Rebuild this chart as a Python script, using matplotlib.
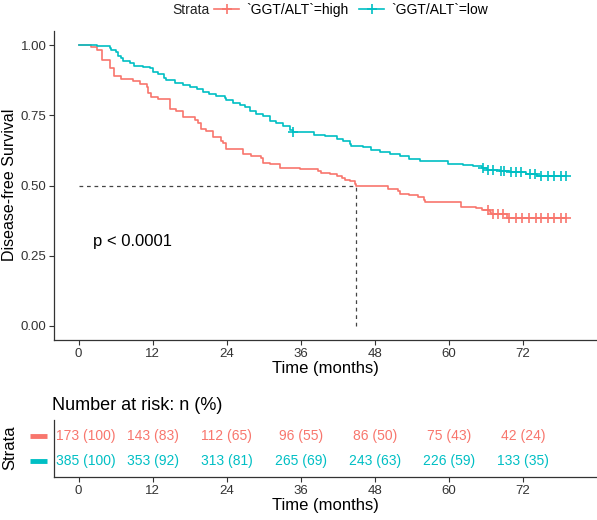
import numpy as np
import matplotlib
matplotlib.use("Agg")
import matplotlib.pyplot as plt
from matplotlib.lines import Line2D

plt.rcParams['font.family'] = ['Liberation Sans', 'DejaVu Sans']

red = '#F8766D'
blue = '#00BFC4'

# GGT/ALT = high : step times and survival after each step
high_t = [0, 2.0, 2.9, 3.8, 5.0, 5.8, 6.9, 8.8, 9.9, 11.0, 11.2, 11.8, 12.9, 14.8, 15.8,
          16.9, 18.8, 19.3, 19.9, 20.7, 21.8, 23.0, 23.4, 23.9, 26.6, 28.0, 29.6, 29.9,
          31.0, 32.6, 35.8, 38.8, 39.3, 40.7, 41.8, 42.6, 43.1, 43.9, 44.7, 45.0, 50.1,
          51.8, 52.0, 53.6, 55.0, 55.9, 56.1, 61.9, 62.0, 64.4, 65.3, 66.6, 66.8, 69.4, 79.0]
high_s = [1.0, 0.994, 0.983, 0.948, 0.92, 0.89, 0.879, 0.873, 0.862, 0.849, 0.831, 0.815,
          0.807, 0.774, 0.766, 0.745, 0.734, 0.724, 0.702, 0.694, 0.674, 0.66, 0.652, 0.629,
          0.611, 0.605, 0.599, 0.581, 0.575, 0.563, 0.557, 0.551, 0.546, 0.541, 0.535,
          0.527, 0.521, 0.515, 0.506, 0.5, 0.488, 0.48, 0.471, 0.466, 0.458, 0.45, 0.443,
          0.436, 0.424, 0.419, 0.413, 0.406, 0.4, 0.385, 0.385]
high_cens = [66.3, 67.1, 67.9, 68.8, 69.8, 70.9, 71.9, 73.0, 74.1, 75.0, 76.1, 77.0, 78.1, 79.0]

# GGT/ALT = low
low_t = [0, 2.9, 5.0, 5.3, 6.1, 6.3, 6.9, 7.2, 8.3, 8.9, 10.4, 11.5, 12.0, 12.8, 13.9, 14.1,
         15.6, 16.9, 18.0, 19.1, 20.1, 21.2, 22.3, 23.7, 23.9, 25.0, 26.1, 26.9, 27.7, 28.8,
         29.9, 31.0, 32.0, 33.1, 34.2, 34.7, 38.2, 39.9, 41.8, 42.8, 43.9, 44.1, 46.1, 47.4,
         48.8, 50.4, 52.0, 53.6, 55.3, 57.4, 59.9, 62.3, 63.9, 65.3, 66.1, 68.2, 69.9, 72.5,
         74.2, 79.0]
low_s = [1.0, 0.996, 0.99, 0.981, 0.976, 0.961, 0.955, 0.943, 0.937, 0.927, 0.921, 0.917,
         0.905, 0.898, 0.883, 0.874, 0.865, 0.857, 0.85, 0.842, 0.833, 0.824, 0.818, 0.812,
         0.806, 0.794, 0.786, 0.779, 0.764, 0.755, 0.746, 0.731, 0.722, 0.711, 0.699, 0.69,
         0.681, 0.675, 0.667, 0.657, 0.648, 0.642, 0.636, 0.628, 0.621, 0.612, 0.604, 0.595,
         0.588, 0.586, 0.576, 0.574, 0.568, 0.562, 0.556, 0.55, 0.548, 0.541, 0.533, 0.533]
low_cens = [34.8, 65.5, 66.3, 67.1, 68.4, 69.0, 70.1, 70.9, 71.7, 73.1, 73.9, 75.0, 76.1,
            77.1, 78.2, 79.0]

median_high = 45.0

risk_times = [0, 12, 24, 36, 48, 60, 72]
high_n = [173, 143, 112, 96, 86, 75, 42]
high_pct = [100, 83, 65, 55, 50, 43, 24]
low_n = [385, 353, 313, 265, 243, 226, 133]
low_pct = [100, 92, 81, 69, 63, 59, 35]

labels = ['`GGT/ALT`=high', '`GGT/ALT`=low']


def surv_at(ts, ss, x):
    i = np.searchsorted(ts, x, side='right') - 1
    return np.array(ss)[i]


W, H = 597, 520
fig = plt.figure(figsize=(W / 100, H / 100), dpi=100)

ax = fig.add_axes([54 / W, 1 - 340 / H, 1 - 54 / W, (340 - 31) / H])
for ts, ss, cens, c in [(high_t, high_s, high_cens, red), (low_t, low_s, low_cens, blue)]:
    ax.plot(ts, ss, drawstyle='steps-post', color=c, lw=1.2)
    ax.plot(cens, surv_at(ts, ss, cens), ls='none', marker='+', ms=7, mew=1.2, color=c)

ax.plot([0, median_high], [0.5, 0.5], ls=(0, (3, 3)), color='#444444', lw=0.9)
ax.plot([median_high, median_high], [0, 0.5], ls=(0, (3, 3)), color='#444444', lw=0.9)
ax.text(2.3, 0.30, 'p < 0.0001', fontsize=12, va='center', ha='left')

ax.set_xlim(-4, 84)
ax.set_ylim(-0.05, 1.05)
ax.set_xticks(risk_times)
ax.set_yticks([0, 0.25, 0.5, 0.75, 1.0])
ax.set_yticklabels(['0.00', '0.25', '0.50', '0.75', '1.00'])
ax.set_xlabel('Time (months)', fontsize=12, labelpad=1)
for sp in ['top', 'right']:
    ax.spines[sp].set_visible(False)
for sp in ['left', 'bottom']:
    ax.spines[sp].set_color('#333333')
    ax.spines[sp].set_linewidth(0.9)
ax.tick_params(labelsize=9.5, length=3.5, color='#333333', labelcolor='#333333', pad=2)
fig.text(10 / W, 1 - 185 / H, 'Disease-free Survival', rotation=90, fontsize=11.5,
         va='center', ha='center')

# legend on top
fig.text(172 / W, 1 - 10 / H, 'Strata', fontsize=10, va='center', ha='left', color='#222222')
handles = [Line2D([0], [0], color=red, lw=1.2, marker='+', ms=7, mew=1.2),
           Line2D([0], [0], color=blue, lw=1.2, marker='+', ms=7, mew=1.2)]
fig.legend(handles, labels, ncol=2, loc='center left', bbox_to_anchor=(214 / W, 1 - 10 / H),
           frameon=False, fontsize=10, handlelength=1.8, handletextpad=0.5,
           columnspacing=0.8, borderpad=0, borderaxespad=0)

# risk table
rt = fig.add_axes([54 / W, 1 - 477 / H, 1 - 54 / W, (477 - 420) / H])
rt.set_xlim(-4, 84)
rt.set_ylim(0.4, 2.6)
for row, ns, ps, c in [(2, high_n, high_pct, red), (1, low_n, low_pct, blue)]:
    for k, (t, n, p) in enumerate(zip(risk_times, ns, ps)):
        if k == 0:
            rt.text(-3.6, row, f'{n} ({p})', color=c, fontsize=10, ha='left', va='center')
        else:
            rt.text(t, row, f'{n} ({p})', color=c, fontsize=10, ha='center', va='center')
    rt.plot([-0.044, -0.013], [row, row], color=c, lw=3.5, solid_capstyle='butt',
            transform=rt.get_yaxis_transform(), clip_on=False)
rt.set_yticks([])
rt.set_xticks(risk_times)
rt.set_xlabel('Time (months)', fontsize=12, labelpad=1)
for sp in ['top', 'right']:
    rt.spines[sp].set_visible(False)
for sp in ['left', 'bottom']:
    rt.spines[sp].set_color('#333333')
    rt.spines[sp].set_linewidth(0.9)
rt.tick_params(labelsize=9.5, length=3.5, color='#333333', labelcolor='#333333', pad=2)
fig.text(10 / W, 1 - 448 / H, 'Strata', rotation=90, fontsize=12, va='center', ha='center')
fig.text(52 / W, 1 - 406 / H, 'Number at risk: n (%)', fontsize=13, va='center', ha='left')

fig.savefig('out.png', dpi=100)
